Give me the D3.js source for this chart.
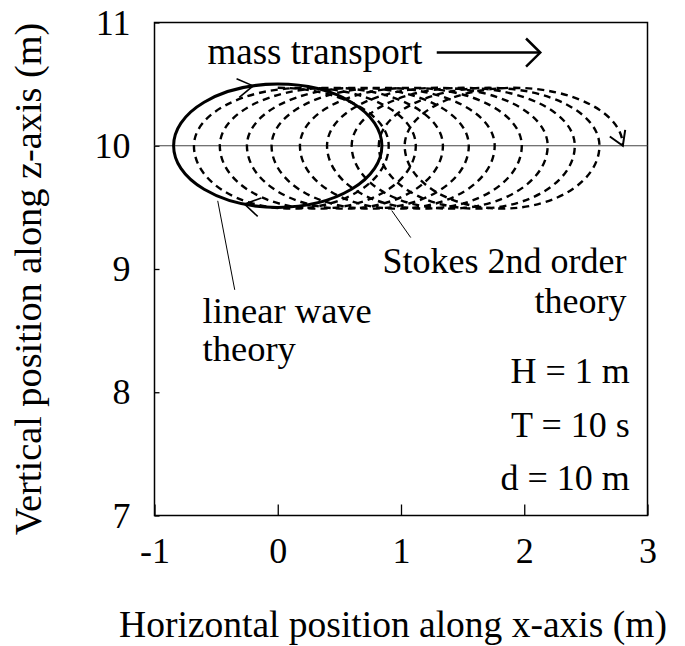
<!DOCTYPE html>
<html>
<head>
<meta charset="utf-8">
<script src="https://cdn.jsdelivr.net/npm/d3@7"></script>
<style>
  html, body { margin: 0; padding: 0; background: #fff; }
  svg { display: block; }
  text { font-family: "Liberation Serif", "Times New Roman", serif; fill: #000; }
</style>
</head>
<body>
<svg id="chart" width="685" height="646"></svg>
<script>
// ---- data ----
const xTicks = [-1, 0, 1, 2, 3];
const yTicks = [7, 8, 9, 10, 11];
const xTickLabels = ["-1", "0", "1", "2", "3"];
const yTickLabels = ["7", "8", "9", "10", "11"];
const meanLevel = 10;                        // still water position of the particle (m)

// linear wave theory: closed orbit
const linearCenter = [0, 10];
const linearSemiAxes = [0.845, 0.5];         // horizontal, vertical (m)
const linearArrowX = [-0.20, -0.27];         // arrow tips: top (moving right), bottom (moving left)

// Stokes 2nd order theory: open orbit with drift
const stokesStart = [0.0, 10.47];            // start at the crest
const stokesRightX = [0.90, 1.12, 1.34, 1.55, 1.76, 1.98, 2.19, 2.41, 2.61, 2.80];
const stokesLeftX = [-0.68, -0.47, -0.25, -0.05, 0.18, 0.40, 0.60, 0.82, 1.03];
const stokesTopZ = 10.47;
const stokesBottomZ = 9.49;

const waveParams = ["H = 1 m", "T = 10 s", "d = 10 m"];
const paramZ = [8.071, 7.633, 7.203];

// ---- layout ----
const svg = d3.select("#chart");
const x = d3.scaleLinear().domain([-1, 3]).range([154.5, 647.5]);
const y = d3.scaleLinear().domain([7, 11]).range([515.5, 22.5]);
const FS = 36;
const FT = 37.5;

// axes
const xAxis = d3.axisBottom(x).tickValues(xTicks)
  .tickFormat((d, i) => xTickLabels[i]).tickSizeInner(-11).tickSizeOuter(0).tickPadding(22);
const yAxis = d3.axisLeft(y).tickValues(yTicks)
  .tickFormat((d, i) => yTickLabels[i]).tickSizeInner(-5).tickSizeOuter(0).tickPadding(24);

const gx = svg.append("g").attr("transform", `translate(0,${y(7)})`).call(xAxis);
const gy = svg.append("g").attr("transform", `translate(${x(-1)},0)`).call(yAxis);
[gx, gy].forEach(g => {
  g.select(".domain").remove();
  g.selectAll("line").attr("stroke", "#000").attr("stroke-width", 1.3);
  g.selectAll("text").style("font-family", '"Liberation Serif", serif').style("font-size", FS + "px").attr("fill", "#000");
});

// frame
svg.append("rect")
  .attr("x", x(-1)).attr("y", y(11))
  .attr("width", x(3) - x(-1)).attr("height", y(7) - y(11))
  .attr("fill", "none").attr("stroke", "#000").attr("stroke-width", 1.5);

// mean water level line
svg.append("line")
  .attr("x1", x(-1)).attr("x2", x(3)).attr("y1", y(meanLevel)).attr("y2", y(meanLevel))
  .attr("stroke", "#444").attr("stroke-width", 1);

// ---- helpers ----
const K = 0.5523;
function halfEllipse(p, xa, xb, zc, zp) {
  const cx = (xa + xb) / 2;
  p.bezierCurveTo(x(xa), y(zc + K * (zp - zc)), x(cx - K * (cx - xa)), y(zp), x(cx), y(zp));
  p.bezierCurveTo(x(cx + K * (xb - cx)), y(zp), x(xb), y(zc + K * (zp - zc)), x(xb), y(zc));
}
function chevron(tipX, tipY, angle, len, spread) {
  const a1 = angle + Math.PI - spread, a2 = angle + Math.PI + spread;
  return `M${tipX + len * Math.cos(a1)},${tipY + len * Math.sin(a1)}L${tipX},${tipY}L${tipX + len * Math.cos(a2)},${tipY + len * Math.sin(a2)}`;
}

// ---- Stokes 2nd order (dashed) ----
const sp = d3.path();
sp.moveTo(x(stokesStart[0]), y(stokesStart[1]));
{
  const xa = stokesStart[0], xb = stokesRightX[0], zp = stokesTopZ, zc = meanLevel;
  sp.bezierCurveTo(x(xa + K * (xb - xa)), y(zp), x(xb), y(zc + K * (zp - zc)), x(xb), y(zc));
}
for (let i = 0; i < stokesLeftX.length; i++) {
  halfEllipse(sp, stokesRightX[i], stokesLeftX[i], meanLevel, stokesBottomZ);
  halfEllipse(sp, stokesLeftX[i], stokesRightX[i + 1], meanLevel, stokesTopZ);
}
svg.append("path").attr("d", sp.toString())
  .attr("fill", "none").attr("stroke", "#000").attr("stroke-width", 2.4)
  .attr("stroke-dasharray", "7,5");

// end arrow of Stokes path
{
  const xa = stokesLeftX[stokesLeftX.length - 1], xb = stokesRightX[stokesRightX.length - 1];
  const cx = (xa + xb) / 2, zp = stokesTopZ, zc = meanLevel;
  const P0 = [x(cx), y(zp)], P1 = [x(cx + K * (xb - cx)), y(zp)], P2 = [x(xb), y(zc + K * (zp - zc))], P3 = [x(xb), y(zc)];
  const t = 0.72, mt = 1 - t;
  const bx = mt*mt*mt*P0[0] + 3*mt*mt*t*P1[0] + 3*mt*t*t*P2[0] + t*t*t*P3[0];
  const by = mt*mt*mt*P0[1] + 3*mt*mt*t*P1[1] + 3*mt*t*t*P2[1] + t*t*t*P3[1];
  const ang = Math.atan2(P3[1] - by, P3[0] - bx);
  svg.append("path").attr("d", chevron(P3[0], P3[1], ang, 16, 0.55))
    .attr("fill", "none").attr("stroke", "#000").attr("stroke-width", 2);
}

// ---- linear wave theory (solid ellipse) ----
svg.append("ellipse")
  .attr("cx", x(linearCenter[0])).attr("cy", y(linearCenter[1]))
  .attr("rx", x(linearCenter[0] + linearSemiAxes[0]) - x(linearCenter[0]))
  .attr("ry", y(linearCenter[1] - linearSemiAxes[1]) - y(linearCenter[1]))
  .attr("fill", "none").attr("stroke", "#000").attr("stroke-width", 3);

linearArrowX.forEach((ax, i) => {
  const a = linearSemiAxes[0], b = linearSemiAxes[1];
  let th = Math.acos((ax - linearCenter[0]) / a);
  if (i === 1) th = -th;
  const px = linearCenter[0] + a * Math.cos(th), pz = linearCenter[1] + b * Math.sin(th);
  const dx = (x(a * Math.sin(th)) - x(0)), dy = (y(-b * Math.cos(th)) - y(0));
  const ang = Math.atan2(dy, dx);
  svg.append("path").attr("d", chevron(x(px), y(pz), ang, 18, 0.55))
    .attr("fill", "none").attr("stroke", "#000").attr("stroke-width", 1.6);
});

// ---- annotations ----
svg.append("text").attr("x", x(-0.57)).attr("y", y(10.667))
  .style("font-size", "37px").text("mass transport");
{
  const x1 = x(1.29), x2 = x(2.13), yy = y(10.756);
  svg.append("line").attr("x1", x1).attr("x2", x2 - 1).attr("y1", yy).attr("y2", yy)
    .attr("stroke", "#000").attr("stroke-width", 2.5);
  svg.append("path").attr("d", chevron(x2, yy, 0, 20, 0.78))
    .attr("fill", "none").attr("stroke", "#000").attr("stroke-width", 2.5);
}

// linear wave label
svg.append("line").attr("x1", x(-0.487)).attr("y1", y(9.553)).attr("x2", x(-0.349)).attr("y2", y(8.831))
  .attr("stroke", "#000").attr("stroke-width", 1);
svg.append("text").attr("x", x(-0.61)).attr("y", y(8.56)).style("font-size", "36.5px").text("linear wave");
svg.append("text").attr("x", x(-0.61)).attr("y", y(8.25)).style("font-size", "36.5px").text("theory");

// Stokes label
svg.append("line").attr("x1", x(0.925)).attr("y1", y(9.474)).attr("x2", x(1.079)).attr("y2", y(9.255))
  .attr("stroke", "#000").attr("stroke-width", 1);
svg.append("text").attr("x", x(2.83)).attr("y", y(8.97)).attr("text-anchor", "end")
  .style("font-size", FS + "px").text("Stokes 2nd order");
svg.append("text").attr("x", x(2.83)).attr("y", y(8.645)).attr("text-anchor", "end")
  .style("font-size", FS + "px").text("theory");

// wave parameters
waveParams.forEach((t, i) => {
  svg.append("text").attr("x", x(2.856)).attr("y", y(paramZ[i])).attr("text-anchor", "end")
    .style("font-size", FS + "px").text(t);
});

// axis titles
svg.append("text").attr("x", 393).attr("y", 637).attr("text-anchor", "middle")
  .style("font-size", FT + "px").text("Horizontal position along x-axis (m)");
svg.append("text").attr("transform", "translate(41,279) rotate(-90)").attr("text-anchor", "middle")
  .style("font-size", "38.3px").text("Vertical position along z-axis (m)");
</script>
</body>
</html>
